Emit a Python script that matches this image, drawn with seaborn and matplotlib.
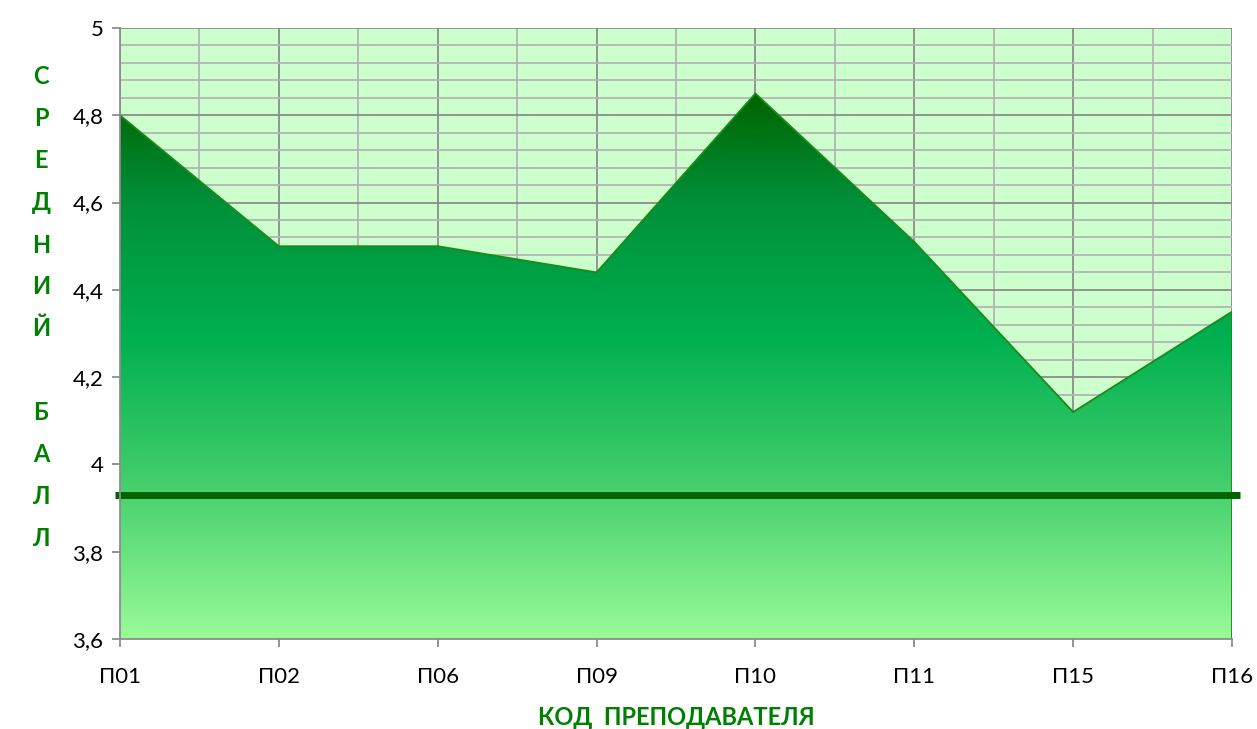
import numpy as np
import matplotlib.pyplot as plt
import seaborn as sns
from matplotlib.colors import LinearSegmentedColormap
from matplotlib.patches import Polygon
from matplotlib.ticker import MultipleLocator, FuncFormatter

teachers = ['П01', 'П02', 'П06', 'П09', 'П10', 'П11', 'П15', 'П16']
scores = [4.80, 4.50, 4.50, 4.44, 4.85, 4.51, 4.12, 4.35]
mean_line = 3.93

sns.set_theme(style='white')
plt.rcParams['font.family'] = ['Lato', 'DejaVu Sans']

fig = plt.figure(figsize=(12.57, 7.29), dpi=100)
ax = fig.add_axes([120 / 1257, 90 / 729, 1112 / 1257, 611 / 729])
ax.set_facecolor('#CCFFCC')

x = np.arange(len(teachers))
ymin, ymax = 3.6, 5.0

# gradient fill under the line
cmap = LinearSegmentedColormap.from_list(
    'g', [(0.0, '#98FB98'), (0.3, '#40CC6A'), (0.55, '#00B050'), (0.8, '#00903A'), (1.0, '#006400')])
grad = np.linspace(0, 1, 256).reshape(-1, 1)
img = ax.imshow(grad, cmap=cmap, origin='lower', aspect='auto',
                extent=[x[0], x[-1], ymin, max(scores)], zorder=2)
verts = [(x[0], ymin)] + list(zip(x, scores)) + [(x[-1], ymin)]
poly = Polygon(verts, closed=True, facecolor='none', edgecolor='none')
ax.add_patch(poly)
img.set_clip_path(poly)

sns.lineplot(x=x, y=scores, ax=ax, color='#1A8A1A', linewidth=1.3, zorder=3)
ax.plot([x[-1], x[-1]], [ymin, scores[-1]], color='#1A8A1A', linewidth=1.3, zorder=3)

ax.plot([x[0] - 0.03, x[-1] + 0.05], [mean_line, mean_line], color='#006400',
        linewidth=5, zorder=4, clip_on=False, solid_capstyle='butt')

ax.set_xlim(x[0], x[-1])
ax.set_ylim(ymin, ymax)

ax.yaxis.set_major_locator(MultipleLocator(0.2))
ax.yaxis.set_minor_locator(MultipleLocator(0.04))
ax.set_xticks(x)
ax.set_xticks(x[:-1] + 0.5, minor=True)
ax.set_xticklabels(teachers)
ax.yaxis.set_major_formatter(FuncFormatter(lambda v, p: ('%g' % round(v, 1)).replace('.', ',')))

ax.grid(which='major', color='#8C8C8C', linewidth=1.3, zorder=1)
ax.grid(which='minor', color='#B4B4B4', linewidth=1.3, zorder=1)
ax.set_axisbelow(True)

for s in ['top', 'right']:
    ax.spines[s].set_visible(False)
for s in ['left', 'bottom']:
    ax.spines[s].set_color('#8C8C8C')
    ax.spines[s].set_linewidth(1.3)
    ax.spines[s].set_zorder(5)

ax.tick_params(axis='both', which='major', length=6, color='#8C8C8C', width=1.3,
               labelsize=16, labelcolor='black', bottom=True, left=True)
ax.tick_params(axis='x', pad=14)
ax.tick_params(axis='y', pad=6)
ax.tick_params(which='minor', length=0)

ax.set_xlabel('КОД  ПРЕПОДАВАТЕЛЯ', fontsize=17, fontweight='bold', color='#008000', labelpad=14)
ax.set_ylabel('')

letters = list('СРЕДНИЙ') + [''] + list('БАЛЛ')
for i, ch in enumerate(letters):
    fig.text(41 / 1257, 1 - (77 + i * 42) / 729, ch, fontsize=17, fontweight='bold',
             color='#008000', ha='center', va='center')

fig.savefig('out.png', dpi=100)
